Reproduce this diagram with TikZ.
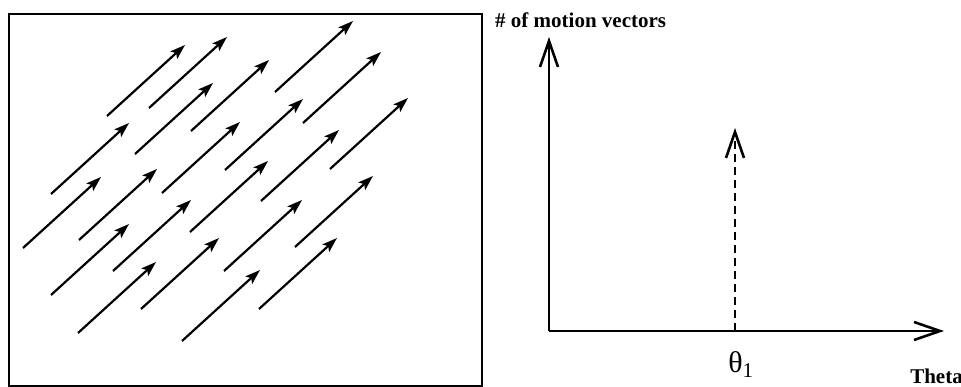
\documentclass[tikz,border=0pt]{standalone}
\usepackage{fontspec}
\setmainfont{Liberation Serif}
\usetikzlibrary{arrows.meta,positioning}

\begin{document}
\begin{tikzpicture}[
    x=1pt, y=-1pt,
    movim/.style={-{Stealth[length=15pt,width=10pt,inset=3pt]}, line width=2.2pt},
    eje/.style={-{Straight Barb[length=26pt,width=18pt]}, line width=2.6pt},
    pico/.style={eje, dash pattern=on 8pt off 5pt},
    rotulo/.style={font=\fontsize{21}{24}\selectfont\bfseries, inner sep=0pt}
  ]
  \useasboundingbox (0,0) rectangle (961,387);
  % campo de vectores
  \draw[line width=2pt] (9,14) rectangle (482,386);
  \foreach \x/\y in {107/116, 149/108, 275/92, 191/131, 135/154, 303/123,
                     51/194, 225/170, 330/169, 162/193, 23/248, 79/240,
                     261/201, 190/232, 113/271, 51/295, 295/247, 224/271,
                     141/309, 78/333, 259/309, 182/341}
    \draw[movim] (\x,\y) -- ++(78,-71);

  % histograma
  \coordinate (o) at (549,331);
  \coordinate (ytop) at (549,37);
  \coordinate (xend) at (944,331);
  \coordinate (t1) at (735,331);
  \coordinate (t1top) at (735,128);
  \draw[eje] (o) -- (ytop);
  \draw[eje] (o) -- (xend);
  \draw[pico] (t1) -- (t1top);

  \node[rotulo, anchor=base west] (ylab) at (495,28) {\# of motion vectors};
  \node[font=\fontsize{30}{32}\selectfont, anchor=base, inner sep=0pt] (th) at (741,372) {θ\textsubscript{1}};
  \node[rotulo, anchor=base east] (xlab) at (963,383) {Theta};
\end{tikzpicture}
\end{document}
